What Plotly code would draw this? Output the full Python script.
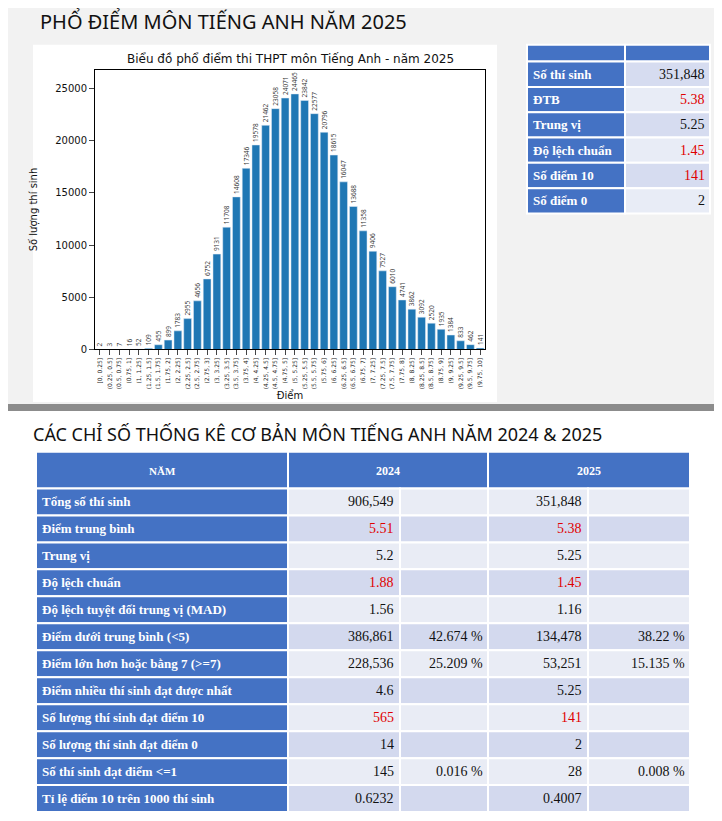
import plotly.graph_objects as go

W, H = 722, 821
OFF = 8  # page body margin in the browser shot

# histogram data (score bins and counts)
edges = [i * 0.25 for i in range(41)]
bins = []
for i in range(40):
    a, b = edges[i], edges[i + 1]
    bins.append(('[' if i == 0 else '(') + ('%g' % a) + ', ' + ('%g' % b) + ']')
counts = [2, 3, 7, 16, 52, 109, 455, 899, 1783, 2955, 4656, 6752, 9131, 11708, 14608,
          17346, 19578, 21462, 23058, 24071, 24465, 23842, 22577, 20796, 18615, 16047,
          13688, 11358, 9406, 7527, 6010, 4741, 3862, 3092, 2520, 1935, 1384, 833, 462, 141]

# small stats table
stat_labels = ['Số thí sinh', 'ĐTB', 'Trung vị', 'Độ lệch chuẩn', 'Số điểm 10', 'Số điểm 0']
stat_values = ['351,848', '5.38', '5.25', '1.45', '141', '2']
stat_red = [False, True, False, True, True, False]

# big comparison table
rows = ['Tổng số thí sinh', 'Điểm trung bình', 'Trung vị', 'Độ lệch chuẩn',
        'Độ lệch tuyệt đối trung vị (MAD)', 'Điểm dưới trung bình (<5)',
        'Điểm lớn hơn hoặc bằng 7 (>=7)', 'Điểm nhiều thí sinh đạt được nhất',
        'Số lượng thí sinh đạt điểm 10', 'Số lượng thí sinh đạt điểm 0',
        'Số thí sinh đạt điểm <=1', 'Tỉ lệ điểm 10 trên 1000 thí sinh']
v2024 = ['906,549', '5.51', '5.2', '1.88', '1.56', '386,861', '228,536', '4.6', '565', '14', '145', '0.6232']
p2024 = ['', '', '', '', '', '42.674 %', '25.209 %', '', '', '', '0.016 %', '']
v2025 = ['351,848', '5.38', '5.25', '1.45', '1.16', '134,478', '53,251', '5.25', '141', '2', '28', '0.4007']
p2025 = ['', '', '', '', '', '38.22 %', '15.135 %', '', '', '', '0.008 %', '']
red_rows = [1, 3, 8]

BLUE = '#4472C4'
RED = '#E00000'
SERIF = 'Liberation Serif'


def fx(px):
    return (px - OFF) / W


def fy(py):
    return 1 - (py - OFF) / H


shapes = [
    dict(type='rect', xref='paper', yref='paper', x0=-0.05, x1=1, y0=fy(410), y1=1.05,
         fillcolor='#F2F2F2', line_width=0, layer='below'),
    dict(type='rect', xref='paper', yref='paper', x0=fx(33), x1=fx(497), y0=fy(405), y1=fy(45),
         fillcolor='white', line_width=0, layer='below'),
    dict(type='rect', xref='paper', yref='paper', x0=-0.05, x1=1, y0=fy(414), y1=fy(407),
         fillcolor='#8C8C8C', line_width=0),
]
annotations = []


def cell(x0, x1, y0, y1, fill):
    shapes.append(dict(type='rect', xref='paper', yref='paper', x0=fx(x0), x1=fx(x1),
                       y0=fy(y1), y1=fy(y0), fillcolor=fill, line=dict(color='white', width=2),
                       layer='below'))


def label(text, x, y, anchor, color='#111', size=13):
    if text == '':
        return
    annotations.append(dict(text=text, x=fx(x), y=fy(y), xref='paper', yref='paper',
                            xanchor=anchor, yanchor='middle', showarrow=False,
                            font=dict(family=SERIF, size=size, color=color)))


# small table
sx = [527, 625, 710]
cell(sx[0], sx[1], 45, 62, BLUE)
cell(sx[1], sx[2], 45, 62, BLUE)
for i, (lab, val) in enumerate(zip(stat_labels, stat_values)):
    y0 = 62 + i * 25.5
    y1 = y0 + 25.5
    cell(sx[0], sx[1], y0, y1, BLUE)
    cell(sx[1], sx[2], y0, y1, '#D6DCF0' if i % 2 == 0 else '#E8ECF6')
    label('<b>' + lab + '</b>', sx[0] + 4, (y0 + y1) / 2, 'left', 'white', 13)
    label(val, sx[2] - 3, (y0 + y1) / 2, 'right', RED if stat_red[i] else '#111', 14)

# big table
bx = [36, 288, 400, 488, 588, 690]
cell(bx[0], bx[1], 455, 492, BLUE)
cell(bx[1], bx[3], 455, 492, BLUE)
cell(bx[3], bx[5], 455, 492, BLUE)
label('<b>NĂM</b>', (bx[0] + bx[1]) / 2, 474, 'center', 'white', 11)
label('<b>2024</b>', (bx[1] + bx[3]) / 2, 474, 'center', 'white', 12)
label('<b>2025</b>', (bx[3] + bx[5]) / 2, 474, 'center', 'white', 12)
rh = (818 - 492) / len(rows)
for i, r in enumerate(rows):
    y0 = 492 + i * rh
    y1 = y0 + rh
    ym = (y0 + y1) / 2
    fill = '#E9ECF5' if i % 2 == 0 else '#D3D9EE'
    cell(bx[0], bx[1], y0, y1, BLUE)
    for k in range(1, 5):
        cell(bx[k], bx[k + 1], y0, y1, fill)
    c = RED if i in red_rows else '#111'
    label('<b>' + r + '</b>', bx[0] + 4, ym, 'left', 'white', 13)
    label(v2024[i], bx[2] - 4, ym, 'right', c, 14)
    label(p2024[i], bx[3] - 3, ym, 'right', '#111', 14)
    label(v2025[i], bx[4] - 4, ym, 'right', c, 14)
    label(p2025[i], bx[5] - 3, ym, 'right', '#111', 14)

annotations += [
    dict(text='PHỔ ĐIỂM MÔN TIẾNG ANH NĂM 2025', x=fx(38), y=fy(22), xref='paper', yref='paper',
         xanchor='left', yanchor='middle', showarrow=False,
         font=dict(family='Noto Sans', size=20, color='#111')),
    dict(text='CÁC CHỈ SỐ THỐNG KÊ CƠ BẢN MÔN TIẾNG ANH NĂM 2024 & 2025', x=fx(31), y=fy(437),
         xref='paper', yref='paper', xanchor='left', yanchor='middle', showarrow=False,
         font=dict(family='Noto Sans', size=18, color='#111')),
    dict(text='Biểu đồ phổ điểm thi THPT môn Tiếng Anh - năm 2025', x=fx(290), y=fy(59),
         xref='paper', yref='paper', xanchor='center', yanchor='middle', showarrow=False,
         font=dict(family='DejaVu Sans', size=12, color='#111')),
]

fig = go.Figure()
fig.add_trace(go.Bar(x=bins, y=counts, marker_color='#1F77B4', text=[str(c) for c in counts],
                     textposition='outside', textangle=-90, cliponaxis=False, constraintext='none',
                     textfont=dict(size=6.5, color='#333'), width=0.8))

fig.update_layout(
    width=W, height=H, margin=dict(l=0, r=0, t=0, b=0),
    paper_bgcolor='white', plot_bgcolor='white', showlegend=False,
    shapes=shapes, annotations=annotations,
    font=dict(color='#111'),
    xaxis=dict(domain=[fx(95), fx(485)], tickangle=-90, showline=True,
               linecolor='black', ticks='outside', tickfont=dict(size=6, family='DejaVu Sans', color='#222'),
               title=dict(text='Điểm', font=dict(size=10, family='DejaVu Sans', color='#111'), standoff=2),
               mirror=True),
    yaxis=dict(domain=[fy(352), fy(70)], range=[0, 26800], showgrid=False,
               tickvals=[0, 5000, 10000, 15000, 20000, 25000], tickformat='d', ticks='outside',
               showline=True, linecolor='black', mirror=True, zeroline=False,
               tickfont=dict(size=10, family='DejaVu Sans', color='#111'),
               title=dict(text='Số lượng thí sinh', font=dict(size=10, family='DejaVu Sans', color='#111'))),
)

fig.write_html("out.html")
